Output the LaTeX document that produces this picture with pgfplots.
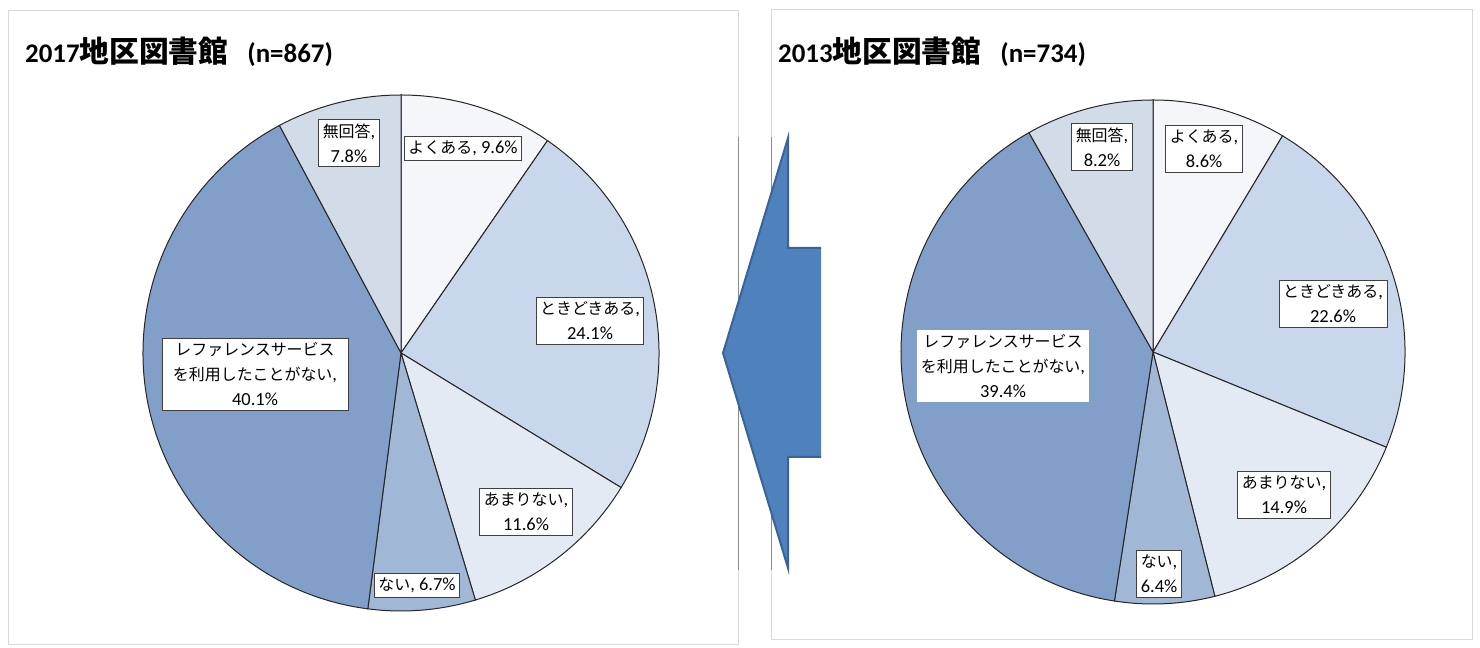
\documentclass[border=0pt]{standalone}
\usepackage{pgfplots}
\pgfplotsset{compat=1.18}
\usepackage{pgfplotstable}
\usepackage{fontspec}
\setmainfont{Carlito}
\newfontfamily\jp[Scale=0.865]{Noto Sans CJK JP}

\definecolor{cA}{HTML}{F4F6F9}
\definecolor{cB}{HTML}{C8D7EB}
\definecolor{cC}{HTML}{E4EAF3}
\definecolor{cD}{HTML}{A0B7D6}
\definecolor{cE}{HTML}{819FC9}
\definecolor{cF}{HTML}{D2DCE9}
\definecolor{arrowfill}{HTML}{4F81BD}
\definecolor{arrowedge}{HTML}{3A6396}
\definecolor{panel}{HTML}{D9D9D9}

% 2017
\pgfplotstableread{
pct col
9.6 cA
24.1 cB
11.6 cC
6.7 cD
40.1 cE
7.8 cF
}\tabA
% 2013
\pgfplotstableread{
pct col
8.6 cA
22.6 cB
14.9 cC
6.4 cD
39.4 cE
8.2 cF
}\tabB

\newcommand\drawpie[1]{%
  \pgfplotstablegetrowsof{#1}%
  \pgfmathtruncatemacro\npie{\pgfplotsretval-1}%
  \def\pietotal{0}%
  \pgfplotsforeachungrouped \i in {0,...,\npie}{%
    \pgfplotstablegetelem{\i}{pct}\of{#1}%
    \pgfmathsetmacro\pietotal{\pietotal+\pgfplotsretval}%
  }%
  \def\piecum{90}%
  \pgfplotsforeachungrouped \i in {0,...,\npie}{%
    \pgfplotstablegetelem{\i}{pct}\of{#1}%
    \pgfmathsetmacro\pieend{\piecum-360*\pgfplotsretval/\pietotal}%
    \pgfplotstablegetelem{\i}{col}\of{#1}%
    \edef\piecol{\pgfplotsretval}%
    \edef\piecmd{\noexpand\filldraw[fill=\piecol,draw=black!85,line width=1bp] (axis cs:0,0) -- (axis cs:{cos(\piecum)},{sin(\piecum)}) arc[start angle=\piecum,end angle=\pieend,radius=1] -- cycle;}%
    \piecmd
    \let\piecum\pieend
  }%
}

\begin{document}
\begin{tikzpicture}[x=1bp,y=1bp,
  lbl/.style={draw=black!75, fill=white, line width=0.8bp, align=center, inner xsep=4bp, inner ysep=4.5bp, font=\fontsize{18.5}{25}\selectfont},
  ttl/.style={anchor=west, inner sep=0pt, font=\fontsize{27}{30}\selectfont\bfseries}]
\path (0,0) rectangle (1480,648);
% panels
\draw[panel, line width=1bp] (8,637) rectangle (738,3);
\draw[panel, line width=1bp] (771,638) rectangle (1472,8);
\draw[black!45, line width=1bp] (738,511) -- (738,78);
\draw[black!45, line width=1bp] (771,511) -- (771,78);

\begin{axis}[at={(401bp,295bp)}, anchor=center, scale only axis, width=516bp, height=516bp,
  xmin=-1, xmax=1, ymin=-1, ymax=1, hide axis, clip=false]
\drawpie{\tabA}
\end{axis}

\begin{axis}[at={(1153bp,296bp)}, anchor=center, scale only axis, width=504bp, height=504bp,
  xmin=-1, xmax=1, ymin=-1, ymax=1, hide axis, clip=false]
\drawpie{\tabB}
\end{axis}

% titles
\node[ttl] at (25,596) {2017{\jp\fontsize{34.5}{34.5}\selectfont 地区図書館}\hspace{19bp}(n=867)};
\node[ttl] at (778,596) {2013{\jp\fontsize{34.5}{34.5}\selectfont 地区図書館}\hspace{19bp}(n=734)};

% labels 2017
\node[lbl] at (349,505) {{\jp 無回答},\\7.8\%};
\node[lbl] at (463,500) {{\jp よくある}, 9.6\%};
\node[lbl] at (590,327) {{\jp ときどきある},\\24.1\%};
\node[lbl] at (526,136) {{\jp あまりない},\\11.6\%};
\node[lbl] at (417,63) {{\jp ない}, 6.7\%};
\node[lbl, inner xsep=11bp] at (255,274) {{\jp レファレンスサービス}\\{\jp を利用したことがない},\\40.1\%};

% labels 2013
\node[lbl] at (1102,501) {{\jp 無回答},\\8.2\%};
\node[lbl] at (1204,499) {{\jp よくある},\\8.6\%};
\node[lbl] at (1333,344) {{\jp ときどきある},\\22.6\%};
\node[lbl] at (1284,153) {{\jp あまりない},\\14.9\%};
\node[lbl] at (1159,74) {{\jp ない},\\6.4\%};
\node[lbl, draw=none] at (1003,282) {{\jp レファレンスサービス}\\{\jp を利用したことがない},\\39.4\%};

% arrow
\fill[arrowfill] (821,400) -- (788,400) -- (788,510) -- (723,295) -- (788,80) -- (788,191) -- (821,191) -- cycle;
\draw[arrowedge, line width=2bp, line join=miter] (821,400) -- (788,400) -- (788,510) -- (723,295) -- (788,80) -- (788,191) -- (821,191);
\end{tikzpicture}
\end{document}
